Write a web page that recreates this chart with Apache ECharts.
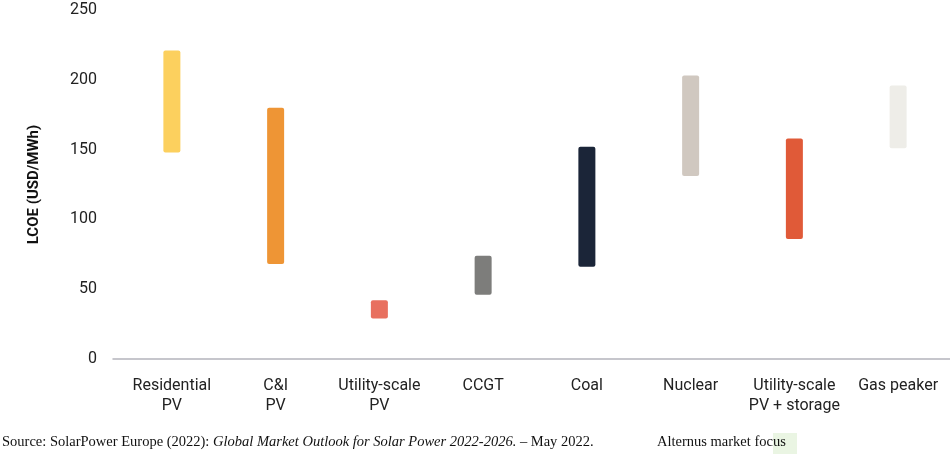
<!DOCTYPE html>
<html>
<head>
<meta charset="utf-8">
<script src="https://cdn.jsdelivr.net/npm/echarts@6/dist/echarts.min.js"></script>
<style>
html,body{margin:0;padding:0;background:#fff;}
#chart{width:950px;height:455px;}
</style>
</head>
<body>
<div id="chart"></div>
<script>
var categories = ['Residential\nPV', 'C&I\nPV', 'Utility-scale\nPV', 'CCGT', 'Coal', 'Nuclear', 'Utility-scale\nPV + storage', 'Gas peaker'];
var lowValues  = [148, 68, 29, 46, 66, 131, 86, 151];
var highValues = [221, 180, 42, 74, 152, 203, 158, 196];
var barColors  = ['#FCD05E', '#EE9535', '#E8705F', '#7D7D7B', '#1B2538', '#D0C8C0', '#E05A38', '#EEEDE8'];
var yTicks = [0, 50, 100, 150, 200, 250];

var chart = echarts.init(document.getElementById('chart'));
var txtFont = 'Roboto';
chart.setOption({
  animation: false,
  backgroundColor: '#ffffff',
  title: [
    {
      left: 2, top: 435, padding: 0,
      text: '{n|Source: SolarPower Europe (2022): }{i|Global Market Outlook for Solar Power 2022-2026.}{n| \u2013 May 2022.}',
      textStyle: {
        fontWeight: 'normal',
        rich: {
          n: {fontFamily: 'Liberation Serif', fontSize: 14.5, fontWeight: 'normal', color: '#111'},
          i: {fontFamily: 'Liberation Serif', fontSize: 14.5, fontWeight: 'normal', fontStyle: 'italic', color: '#111'}
        }
      }
    },
    {
      left: 657, top: 435, padding: 0,
      text: 'Alternus market focus',
      textStyle: {fontFamily: 'Liberation Serif', fontSize: 14.5, fontWeight: 'normal', color: '#111'}
    }
  ],
  graphic: [
    {type: 'rect', z: -1, shape: {x: 773, y: 433, width: 24, height: 21}, style: {fill: '#EAF5E3'}}
  ],
  grid: [
    {left: 120, right: -6, top: 10, bottom: 96},
    {left: 113, right: 0, top: 10, bottom: 96}
  ],
  xAxis: [
    {
      type: 'category', gridIndex: 0, data: categories,
      axisLine: {show: false}, axisTick: {show: false},
      axisLabel: {color: '#222', fontFamily: txtFont, fontSize: 16, lineHeight: 20, margin: 17, interval: 0}
    },
    {
      type: 'value', gridIndex: 1, min: 0, max: 1,
      axisLine: {show: true, lineStyle: {color: '#B4B4BC', width: 1.5}},
      axisTick: {show: false}, axisLabel: {show: false}, splitLine: {show: false}
    }
  ],
  yAxis: [
    {
      type: 'value', gridIndex: 0, min: 0, max: 250, interval: 50,
      name: 'LCOE (USD/MWh)', nameLocation: 'middle', nameGap: 78,
      nameTextStyle: {color: '#111', fontFamily: txtFont, fontSize: 15, fontWeight: 'bold'},
      axisLine: {show: false}, axisTick: {show: false}, splitLine: {show: false},
      axisLabel: {color: '#222', fontFamily: txtFont, fontSize: 16, margin: 23,
        formatter: function (v) { return yTicks.indexOf(v) >= 0 ? String(v) : ''; }}
    },
    {type: 'value', gridIndex: 1, min: 0, max: 1, show: false}
  ],
  series: [
    {
      type: 'bar', stack: 'r', xAxisIndex: 0, yAxisIndex: 0, barWidth: 17,
      itemStyle: {color: 'transparent'},
      data: lowValues, silent: true
    },
    {
      type: 'bar', stack: 'r', xAxisIndex: 0, yAxisIndex: 0, barWidth: 17,
      data: highValues.map(function (h, i) {
        return {value: h - lowValues[i], itemStyle: {color: barColors[i], borderRadius: 2}};
      })
    }
  ]
});
</script>
</body>
</html>
